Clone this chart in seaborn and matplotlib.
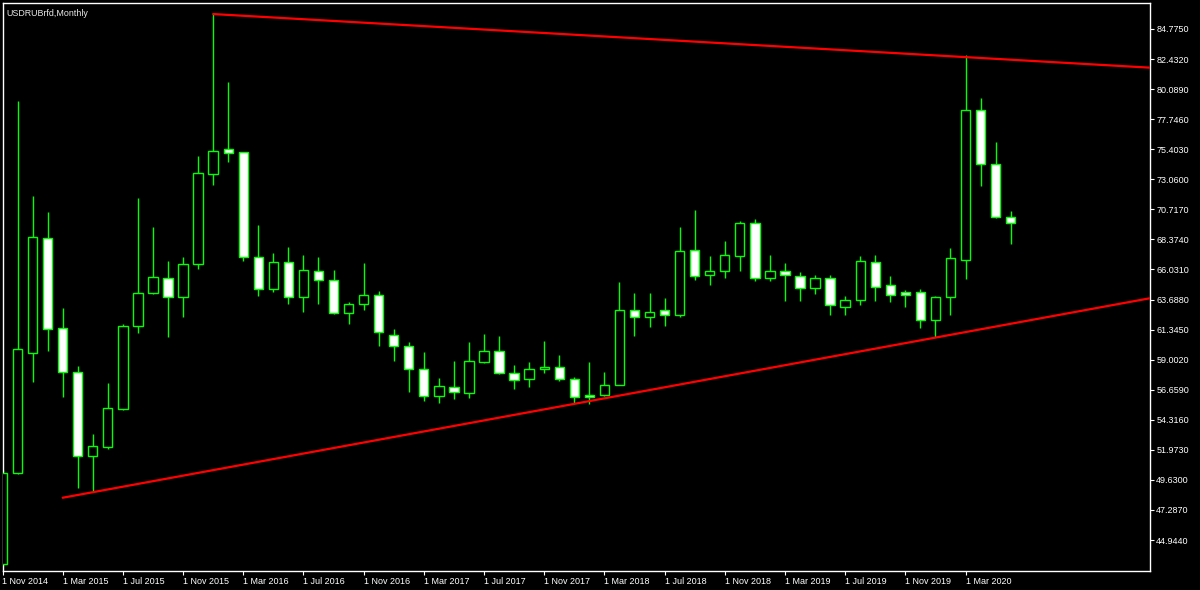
import matplotlib
matplotlib.use("Agg")
import matplotlib.pyplot as plt
import seaborn as sns
import pandas as pd
import numpy as np

# ---------------- data ----------------
months = ["Nov 2014", "Dec 2014", "Jan 2015", "Feb 2015", "Mar 2015", "Apr 2015", "May 2015", "Jun 2015",
          "Jul 2015", "Aug 2015", "Sep 2015", "Oct 2015", "Nov 2015", "Dec 2015", "Jan 2016", "Feb 2016",
          "Mar 2016", "Apr 2016", "May 2016", "Jun 2016", "Jul 2016", "Aug 2016", "Sep 2016", "Oct 2016",
          "Nov 2016", "Dec 2016", "Jan 2017", "Feb 2017", "Mar 2017", "Apr 2017", "May 2017", "Jun 2017",
          "Jul 2017", "Aug 2017", "Sep 2017", "Oct 2017", "Nov 2017", "Dec 2017", "Jan 2018", "Feb 2018",
          "Mar 2018", "Apr 2018", "May 2018", "Jun 2018", "Jul 2018", "Aug 2018", "Sep 2018", "Oct 2018",
          "Nov 2018", "Dec 2018", "Jan 2019", "Feb 2019", "Mar 2019", "Apr 2019", "May 2019", "Jun 2019",
          "Jul 2019", "Aug 2019", "Sep 2019", "Oct 2019", "Nov 2019", "Dec 2019", "Jan 2020", "Feb 2020",
          "Mar 2020", "Apr 2020", "May 2020", "Jun 2020"]

opens = [43.08, 50.19, 59.50, 68.46, 61.49, 58.02, 51.49, 52.17,
         55.16, 61.62, 64.17, 65.39, 63.91, 66.43, 73.45, 75.42,
         75.16, 66.98, 64.49, 66.61, 63.89, 65.89, 65.21, 62.66,
         63.32, 64.04, 60.95, 60.09, 58.25, 56.19, 56.87, 56.43,
         58.84, 59.65, 57.96, 57.47, 58.25, 58.40, 57.47, 56.27,
         56.27, 57.05, 62.87, 62.35, 62.87, 62.52, 67.53, 65.58,
         65.89, 67.06, 69.63, 65.34, 65.89, 65.52, 64.56, 65.39,
         63.08, 63.63, 66.64, 64.80, 64.30, 64.27, 62.07, 63.91,
         66.77, 78.44, 74.23, 70.15]

highs = [50.40, 79.16, 71.76, 70.51, 63.03, 58.50, 53.23, 57.16,
         61.76, 71.63, 69.37, 66.72, 66.98, 74.88, 85.94, 80.64,
         75.20, 69.50, 67.29, 67.76, 67.16, 67.00, 66.00, 63.50,
         66.51, 64.35, 61.37, 60.40, 59.59, 57.55, 58.88, 60.40,
         61.00, 60.85, 58.59, 58.82, 60.48, 59.37, 57.63, 58.80,
         58.06, 65.03, 64.22, 64.22, 63.78, 69.34, 70.67, 67.08,
         68.25, 69.81, 69.96, 67.16, 66.51, 65.83, 65.60, 65.60,
         63.99, 67.08, 67.16, 65.52, 64.46, 64.51, 63.95, 67.68,
         82.75, 79.37, 75.94, 70.57]

lows = [42.90, 50.10, 57.28, 59.70, 56.07, 48.98, 48.76, 52.02,
        55.10, 61.10, 64.10, 60.79, 62.30, 66.04, 72.64, 74.43,
        66.67, 63.96, 64.30, 63.34, 62.69, 63.34, 62.60, 61.76,
        62.85, 60.09, 58.90, 56.50, 55.80, 55.60, 55.96, 56.04,
        58.77, 57.90, 56.69, 56.89, 57.94, 57.36, 55.60, 55.52,
        56.17, 56.99, 60.87, 61.52, 61.62, 62.30, 65.21, 64.82,
        65.34, 65.91, 65.13, 65.13, 63.60, 63.60, 64.09, 62.48,
        62.48, 63.29, 63.60, 63.52, 63.08, 61.47, 60.79, 62.48,
        65.29, 72.56, 70.07, 67.99]

closes = [50.19, 59.81, 68.59, 61.39, 58.02, 51.52, 52.24, 55.20,
          61.65, 64.20, 65.47, 63.91, 66.43, 73.53, 75.29, 75.13,
          66.98, 64.49, 66.64, 63.91, 65.97, 65.21, 62.66, 63.32,
          64.04, 61.18, 60.09, 58.25, 56.19, 56.93, 56.48, 58.88,
          59.65, 57.96, 57.39, 58.25, 58.40, 57.52, 56.12, 56.12,
          57.06, 62.87, 62.35, 62.69, 62.51, 67.45, 65.50, 65.89,
          67.13, 69.63, 65.37, 65.91, 65.60, 64.56, 65.39, 63.24,
          63.65, 66.72, 64.69, 64.07, 64.04, 62.07, 63.91, 66.90,
          78.44, 74.25, 70.15, 69.63]

# trend lines (x in months since Nov 2014, y price)
upper_x = [14.0, 76.26]
upper_y = [85.94, 81.76]
lower_x = [4.0, 76.26]
lower_y = [48.24, 63.79]

ytick_values = [44.9440, 47.2870, 49.6300, 51.9730, 54.3160, 56.6590, 59.0020, 61.3450, 63.6880,
                66.0310, 68.3740, 70.7170, 73.0600, 75.4030, 77.7460, 80.0890, 82.4320, 84.7750]
xtick_labels = ["1 Nov 2014", "1 Mar 2015", "1 Jul 2015", "1 Nov 2015", "1 Mar 2016", "1 Jul 2016",
                "1 Nov 2016", "1 Mar 2017", "1 Jul 2017", "1 Nov 2017", "1 Mar 2018", "1 Jul 2018",
                "1 Nov 2018", "1 Mar 2019", "1 Jul 2019", "1 Nov 2019", "1 Mar 2020"]
title_text = "USDRUBrfd,Monthly"

# ---------------- style ----------------
sns.set_theme(style="dark", rc={
    "figure.facecolor": "black",
    "axes.facecolor": "black",
    "axes.edgecolor": "white",
    "axes.grid": False,
    "xtick.color": "white",
    "ytick.color": "white",
    "text.color": "white",
})
plt.rcParams["font.family"] = ["Liberation Sans", "DejaVu Sans"]

df = pd.DataFrame({"month": months, "open": opens, "high": highs, "low": lows, "close": closes})
df["idx"] = np.arange(len(df))
df["bull"] = df["close"] >= df["open"]
df["bottom"] = df[["open", "close"]].min(axis=1)
df["height"] = (df["close"] - df["open"]).abs().clip(lower=0.08)

fig = plt.figure(figsize=(12, 5.9), dpi=100)
L, R, T, B = 2.5, 1150, 2.5, 571
ax = fig.add_axes([L / 1200, (590 - B) / 590, (R - L) / 1200, (B - T) / 590])

lime = "#00FF00"
ax.vlines(df["idx"], df["low"], df["high"], color=lime, lw=1.0, zorder=2)
ax.bar(df["idx"], df["height"], bottom=df["bottom"], width=0.62,
       color=np.where(df["bull"], "black", "white"), edgecolor=lime, linewidth=1.0, zorder=3)

lines = pd.DataFrame({"x": upper_x + lower_x, "y": upper_y + lower_y,
                      "line": ["upper"] * 2 + ["lower"] * 2})
sns.lineplot(data=lines, x="x", y="y", units="line", estimator=None, sort=False,
             color="#FF0000", lw=1.6, ax=ax, zorder=4, legend=False)

x_min = (L - 2.3) / 15.05
x_max = (R - 2.3) / 15.05
ax.set_xlim(x_min, x_max)
ax.set_ylim(42.53, 86.84)

ax.yaxis.tick_right()
ax.set_yticks(ytick_values)
ax.set_yticklabels([f"{v:.4f}" for v in ytick_values])
ax.set_xticks(np.arange(0, 4 * len(xtick_labels), 4))
ax.set_xticklabels(xtick_labels, ha="left")
ax.tick_params(axis="both", which="both", direction="out", length=3, width=0.8,
               colors="white", labelsize=6.5, pad=1.5)
ax.tick_params(axis="y", left=False, right=True, labelleft=False, labelright=True)
ax.tick_params(axis="x", bottom=True, pad=1)
ax.set_xlabel("")
ax.set_ylabel("")
for s in ax.spines.values():
    s.set_color("white")
    s.set_linewidth(1.0)
    s.set_visible(True)

ax.text(4 / (R - L), 1 - 7 / (B - T), title_text, transform=ax.transAxes,
        ha="left", va="top", fontsize=6.4, color="#E8E8E8")

fig.savefig("out.png", dpi=100, facecolor="black")
